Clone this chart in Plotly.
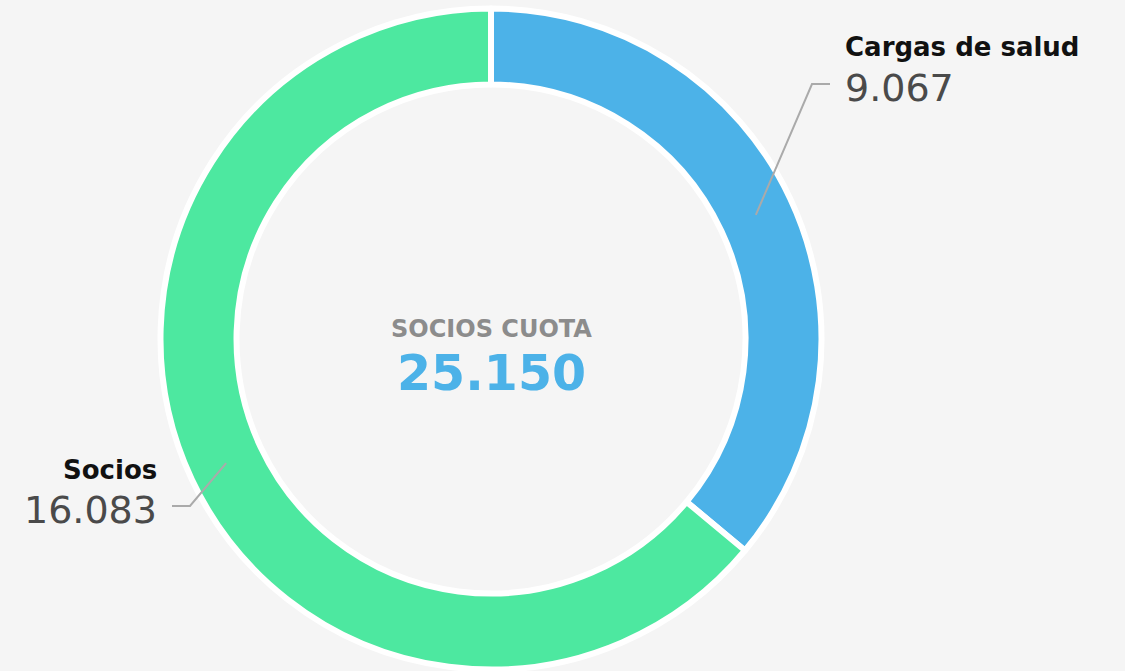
import math
import plotly.graph_objects as go

# ---- data ----
categories = ["Cargas de salud", "Socios"]
values = [9067, 16083]
value_labels = ["9.067", "16.083"]
center_title = "SOCIOS CUOTA"
center_value = "25.150"

# ---- style ----
colors = ["#4cb2e8", "#4de8a0"]
W, H = 1125, 671
BG = "#f5f5f5"
CX, CY = 491, 339            # pixel center of donut
R = 330.5                     # outer radius (px)
HOLE = 0.77
FONT = "DejaVu Sans"

dom_x = [0, 2 * CX / W]
dom_y = [1 - (CY + R) / H, 1 - (CY - R) / H]

fig = go.Figure(go.Pie(
    labels=categories,
    values=values,
    hole=HOLE,
    sort=False,
    direction="clockwise",
    rotation=0,
    marker=dict(colors=colors, line=dict(color="white", width=6)),
    textinfo="none",
    hoverinfo="label+value",
    domain=dict(x=dom_x, y=dom_y),
    showlegend=False,
))

def px2paper(x, y):
    return x / W, 1 - y / H

# label anchor settings (px)
label_layout = {
    "Cargas de salud": dict(x=843, ty=47, vy=88, side="left", end_dx=-13, elbow_dx=-18),
    "Socios": dict(x=159, ty=470, vy=510, side="right", end_dx=13, elbow_dx=18),
}

annotations = []
shapes = []
total = sum(values)
cum = 0
r_mid = R * (1 + HOLE) / 2
for cat, val, vlab in zip(categories, values, value_labels):
    mid = (cum + val / 2) / total * 2 * math.pi
    cum += val
    sx = CX + r_mid * math.sin(mid)
    sy = CY - r_mid * math.cos(mid)
    L = label_layout[cat]
    ex = L["x"] + L["end_dx"]
    ey = L["vy"] - 4
    bx = ex + L["elbow_dx"]
    p1 = px2paper(sx, sy)
    p2 = px2paper(bx, ey)
    p3 = px2paper(ex, ey)
    shapes.append(dict(
        type="path", xref="paper", yref="paper",
        path=f"M {p1[0]} {p1[1]} L {p2[0]} {p2[1]} L {p3[0]} {p3[1]}",
        line=dict(color="#aaaaaa", width=2),
    ))
    xa = "left" if L["side"] == "left" else "right"
    tx, ty = px2paper(L["x"], L["ty"])
    annotations.append(dict(
        x=tx, y=ty, xref="paper", yref="paper", xanchor=xa, yanchor="middle",
        text=f"<b>{cat}</b>", showarrow=False,
        font=dict(family=FONT, size=26, color="#111111"),
    ))
    vx, vy = px2paper(L["x"], L["vy"])
    annotations.append(dict(
        x=vx, y=vy, xref="paper", yref="paper", xanchor=xa, yanchor="middle",
        text=vlab, showarrow=False,
        font=dict(family=FONT, size=38, color="#4a4a4a"),
    ))

cx_p, _ = px2paper(CX, 0)
annotations.append(dict(
    x=cx_p, y=px2paper(0, 329)[1], xref="paper", yref="paper",
    xanchor="center", yanchor="middle", showarrow=False,
    text=f"<b>{center_title}</b>",
    font=dict(family=FONT, size=24, color="#8c8c8c"),
))
annotations.append(dict(
    x=cx_p, y=px2paper(0, 374)[1], xref="paper", yref="paper",
    xanchor="center", yanchor="middle", showarrow=False,
    text=f"<b>{center_value}</b>",
    font=dict(family=FONT, size=49, color="#4cb2e8"),
))

fig.update_layout(
    width=W, height=H,
    margin=dict(l=0, r=0, t=0, b=0),
    paper_bgcolor=BG, plot_bgcolor=BG,
    annotations=annotations,
    shapes=shapes,
)

fig.write_html(
    "out.html",
    config={"displayModeBar": False},
    post_script="document.body.style.margin='0';document.body.style.background='#f5f5f5';document.body.style.overflow='hidden';",
)
